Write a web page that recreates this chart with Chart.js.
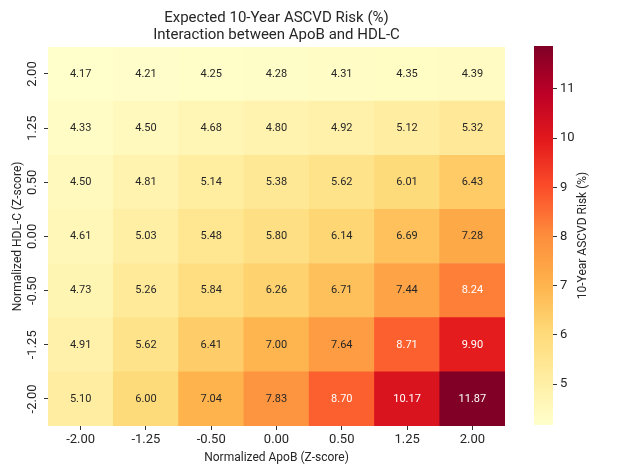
<!DOCTYPE html>
<html>
<head>
<meta charset="utf-8">
<script src="https://cdn.jsdelivr.net/npm/chart.js@4.4.0/dist/chart.umd.min.js"></script>
<style>
  body { margin: 0; background: #fff; }
  #wrap { position: relative; width: 632px; height: 474px; }
  #heat { position: absolute; left: 0; top: 0; }
  #cbar { position: absolute; left: 490px; top: 0; }
</style>
</head>
<body>
<div id="wrap">
  <canvas id="heat" width="632" height="474"></canvas>
  <canvas id="cbar" width="142" height="474"></canvas>
</div>
<script>
// axis labels (z-scores)
const apobLabels = ['-2.00', '-1.25', '-0.50', '0.00', '0.50', '1.25', '2.00'];
// HDL-C rows, bottom to top
const hdlLabels = ['-2.00', '-1.25', '-0.50', '0.00', '0.50', '1.25', '2.00'];

// risk values per HDL-C row (bottom row first), one value per ApoB column
const rowM200 = [5.10, 6.00, 7.04, 7.83, 8.70, 10.17, 11.87];
const rowM125 = [4.91, 5.62, 6.41, 7.00, 7.64, 8.71, 9.90];
const rowM050 = [4.73, 5.26, 5.84, 6.26, 6.71, 7.44, 8.24];
const row000  = [4.61, 5.03, 5.48, 5.80, 6.14, 6.69, 7.28];
const rowP050 = [4.50, 4.81, 5.14, 5.38, 5.62, 6.01, 6.43];
const rowP125 = [4.33, 4.50, 4.68, 4.80, 4.92, 5.12, 5.32];
const rowP200 = [4.17, 4.21, 4.25, 4.28, 4.31, 4.35, 4.39];
const riskRows = [rowM200, rowM125, rowM050, row000, rowP050, rowP125, rowP200];

const cbTicks = [5, 6, 7, 8, 9, 10, 11];

const FONT = 'Roboto, "Open Sans", sans-serif';
const allVals = riskRows.flat();
const vmin = Math.min(...allVals);
const vmax = Math.max(...allVals);

// YlOrRd anchors (matplotlib)
const ylorrd = ['#ffffcc', '#ffeda0', '#fed976', '#feb24c', '#fd8d3c',
                '#fc4e2a', '#e31a1c', '#bd0026', '#800026'];

function hexRgb(h) {
  return [1, 3, 5].map(i => parseInt(h.substr(i, 2), 16));
}

function colorFor(v) {
  let t = (v - vmin) / (vmax - vmin);
  t = Math.max(0, Math.min(1, t)) * (ylorrd.length - 1);
  const i = Math.min(Math.floor(t), ylorrd.length - 2);
  const f = t - i;
  const a = hexRgb(ylorrd[i]), b = hexRgb(ylorrd[i + 1]);
  return a.map((c, k) => Math.round(c + (b[k] - c) * f));
}

function rgbStr(c) {
  return 'rgb(' + c.join(',') + ')';
}

// same rule seaborn uses to pick annotation colour
function textColorFor(v) {
  const lin = colorFor(v).map(c => {
    c /= 255;
    return c <= 0.03928 ? c / 12.92 : Math.pow((c + 0.055) / 1.055, 2.4);
  });
  const lum = 0.2126 * lin[0] + 0.7152 * lin[1] + 0.0722 * lin[2];
  return lum > 0.408 ? '#262626' : '#ffffff';
}

const datasets = riskRows.map((row, r) => ({
  label: hdlLabels[r],
  data: row.map(() => 1),
  risk: row,
  backgroundColor: row.map(v => rgbStr(colorFor(v))),
  borderWidth: 0,
  barPercentage: 1,
  categoryPercentage: 1
}));

// cell annotations + rotated y tick labels
const heatLabels = {
  id: 'heatLabels',
  afterDatasetsDraw(chart) {
    const ctx = chart.ctx;
    ctx.save();
    ctx.font = '11px ' + FONT;
    ctx.textAlign = 'center';
    ctx.textBaseline = 'middle';
    chart.data.datasets.forEach((ds, r) => {
      chart.getDatasetMeta(r).data.forEach((bar, c) => {
        const v = ds.risk[c];
        const cy = (bar.y + bar.base) / 2;
        ctx.fillStyle = textColorFor(v);
        ctx.fillText(v.toFixed(2), bar.x, cy);
      });
    });
    const yScale = chart.scales.y;
    ctx.font = '13px ' + FONT;
    ctx.fillStyle = '#262626';
    hdlLabels.forEach((lab, i) => {
      const y = yScale.getPixelForValue(i + 0.5);
      ctx.save();
      ctx.translate(33, y);
      ctx.rotate(-Math.PI / 2);
      ctx.fillText(lab, 0, 0);
      ctx.restore();
    });
    ctx.restore();
  }
};

new Chart(document.getElementById('heat'), {
  type: 'bar',
  data: { labels: apobLabels, datasets: datasets },
  options: {
    responsive: false,
    animation: false,
    layout: { padding: { left: 0, right: 127, top: 4, bottom: 9 } },
    plugins: {
      legend: { display: false },
      tooltip: { enabled: false },
      title: {
        display: true,
        fullSize: false,
        text: ['Expected 10-Year ASCVD Risk (%)', 'Interaction between ApoB and HDL-C'],
        color: '#262626',
        font: { family: FONT, size: 15, weight: 'normal', lineHeight: 1.13 },
        padding: { top: 6, bottom: 3 }
      }
    },
    scales: {
      x: {
        stacked: true,
        grid: { display: true, drawOnChartArea: false, offset: false, tickLength: 4, color: '#333' },
        border: { display: false },
        ticks: { color: '#262626', font: { family: FONT, size: 13 }, padding: 2, maxRotation: 0 },
        title: {
          display: true,
          text: 'Normalized ApoB (Z-score)',
          color: '#262626',
          font: { family: FONT, size: 12 },
          padding: { top: 1, bottom: 0 }
        }
      },
      y: {
        stacked: true,
        min: 0,
        max: 7,
        afterBuildTicks: s => { s.ticks = hdlLabels.map((l, i) => ({ value: i + 0.5 })); },
        afterFit: s => { s.width = 48; },
        grid: { display: true, drawOnChartArea: false, tickLength: 4, color: '#333' },
        border: { display: false },
        ticks: { display: false },
        title: {
          display: true,
          text: 'Normalized HDL-C (Z-score)',
          color: '#262626',
          font: { family: FONT, size: 12 },
          padding: { top: 11, bottom: 0 }
        }
      }
    }
  },
  plugins: [heatLabels]
});

// colour bar as a single floating bar with a gradient fill
function cbarFill(context) {
  const chart = context.chart;
  const area = chart.chartArea;
  if (!area) return null;
  const y = chart.scales.y;
  const g = chart.ctx.createLinearGradient(0, y.getPixelForValue(vmin), 0, y.getPixelForValue(vmax));
  ylorrd.forEach((c, i) => g.addColorStop(i / (ylorrd.length - 1), c));
  return g;
}

// colour bar label, reading bottom to top
const cbarTitle = {
  id: 'cbarTitle',
  afterDraw(chart) {
    const ctx = chart.ctx;
    const area = chart.chartArea;
    ctx.save();
    ctx.font = '12px ' + FONT;
    ctx.fillStyle = '#262626';
    ctx.textAlign = 'center';
    ctx.textBaseline = 'middle';
    ctx.translate(93, (area.top + area.bottom) / 2);
    ctx.rotate(-Math.PI / 2);
    ctx.fillText('10-Year ASCVD Risk (%)', 0, 0);
    ctx.restore();
  }
};

new Chart(document.getElementById('cbar'), {
  type: 'bar',
  data: {
    labels: [''],
    datasets: [{
      data: [[vmin, vmax]],
      backgroundColor: cbarFill,
      borderWidth: 0,
      barPercentage: 1,
      categoryPercentage: 1
    }]
  },
  options: {
    responsive: false,
    animation: false,
    layout: { padding: { left: 44, top: 46, bottom: 49, right: 0 } },
    plugins: { legend: { display: false }, tooltip: { enabled: false } },
    scales: {
      x: { display: false },
      y: {
        position: 'right',
        min: vmin,
        max: vmax,
        afterBuildTicks: s => { s.ticks = cbTicks.map(v => ({ value: v })); },
        afterFit: s => { s.width = 79; },
        grid: { display: true, drawOnChartArea: false, tickLength: 4, color: '#333' },
        border: { display: false },
        ticks: { color: '#262626', font: { family: FONT, size: 13 }, padding: 3 }
      }
    }
  },
  plugins: [cbarTitle]
});
</script>
</body>
</html>
